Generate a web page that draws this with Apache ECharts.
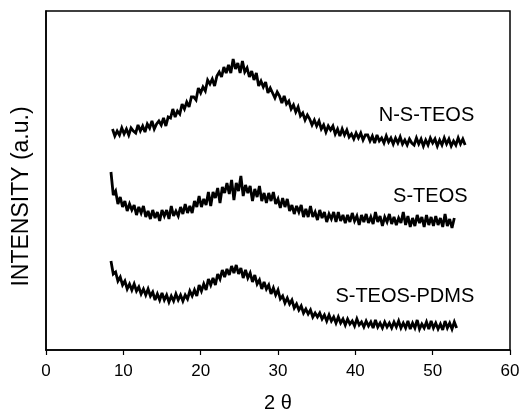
<!DOCTYPE html>
<html>
<head>
<meta charset="utf-8">
<title>XRD patterns</title>
<script src="https://cdn.jsdelivr.net/npm/echarts@6/dist/echarts.min.js"></script>
<style>
  html, body { margin: 0; padding: 0; background: #fff; }
  #chart { width: 520px; height: 409px; }
</style>
</head>
<body>
<div id="chart"></div>
<script>
// 2 theta sampling of each scan (degrees)
var angleStep = 0.3;
var nsStart = 8.6;
var sStart = 8.4;
var pdmsStart = 8.4;

// intensities (arbitrary units, curves already offset)
var nsTeos = [
  221,214,219,215,222,216,221,215,222,219,
  217,225,219,224,218,226,222,229,221,226,
  229,225,232,224,233,232,241,233,239,236,
  246,241,248,243,253,253,250,262,257,263,
  259,270,266,271,264,274,278,273,283,277,
  285,277,291,281,287,277,289,278,282,273,
  279,270,277,264,269,263,268,257,262,257,
  252,258,254,247,254,246,249,241,245,238,
  243,234,237,230,235,231,225,230,224,229,
  221,225,218,224,220,224,216,221,214,221,
  215,220,213,216,211,217,212,217,210,215,
  215,209,214,207,215,209,212,207,214,208,
  212,206,212,207,213,206,210,205,211,207,
  205,212,206,211,204,210,205,212,207,211,
  204,210,205,212,206,211,204,209,205,212,
  206,211,205
];
var sTeos = [
  178,155,159,146,153,143,149,139,146,140,
  145,135,143,137,144,133,139,131,140,132,
  138,129,140,134,140,131,144,134,139,134,
  143,136,146,137,144,137,149,143,154,143,
  151,145,158,144,158,152,162,147,163,157,
  167,156,170,150,167,159,174,154,165,157,
  164,149,161,153,164,149,157,147,157,149,
  158,146,151,142,152,143,151,139,145,136,
  144,138,145,133,141,133,144,133,138,130,
  140,132,138,128,136,131,138,128,138,129,
  135,127,135,128,137,129,134,125,135,128,
  136,127,133,126,138,128,134,124,133,128,
  136,126,133,125,132,127,138,125,134,123,
  132,124,135,127,133,123,135,125,133,124,
  134,125,132,123,136,124,131,122,132
];
var sTeosPdms = [
  89,76,78,69,73,65,69,61,66,60,
  66,59,63,56,61,55,61,54,58,50,
  56,50,57,50,55,48,54,49,56,50,
  55,49,55,51,59,54,60,54,65,59,
  66,60,71,65,72,65,76,71,80,73,
  81,75,84,77,85,76,82,72,80,72,
  77,68,75,66,70,61,68,61,65,56,
  62,55,60,51,54,47,52,46,50,42,
  46,40,44,37,41,36,40,33,37,33,
  37,31,35,29,35,29,33,27,33,27,
  31,25,31,26,29,24,31,25,28,23,
  29,24,28,22,30,23,27,22,28,23,
  27,22,28,23,29,22,27,22,29,21,
  27,22,30,21,26,22,28,21,29,22,
  27,21,26,20,29,22,27,21,28,22
];

var seriesNames = ['N-S-TEOS', 'S-TEOS', 'S-TEOS-PDMS'];
// where each name sits, in data units [2 theta, intensity]
var labelAt = [[49.2, 235], [49.7, 154], [46.4, 54]];
var xTicks = [0, 10, 20, 30, 40, 50, 60];

function toPairs(start, values) {
  var out = [];
  for (var i = 0; i < values.length; i++) {
    out.push([+(start + i * angleStep).toFixed(2), values[i]]);
  }
  return out;
}

var font = '"Liberation Sans", Arial, Helvetica, sans-serif';
var scans = [toPairs(nsStart, nsTeos), toPairs(sStart, sTeos), toPairs(pdmsStart, sTeosPdms)];

var mychart = echarts.init(document.getElementById('chart'), null, { renderer: 'canvas' });

var option = {
  animation: false,
  backgroundColor: '#fff',
  grid: {
    left: 46, right: 10, top: 11, bottom: 59,
    show: true, borderColor: '#000', borderWidth: 1.5,
    outerBoundsMode: 'none'
  },
  xAxis: {
    type: 'value',
    min: xTicks[0], max: xTicks[xTicks.length - 1], interval: 10,
    name: '2 θ',
    nameLocation: 'middle',
    nameGap: 43,
    nameTextStyle: { color: '#000', fontSize: 20, fontFamily: font },
    axisLine: { lineStyle: { color: '#000', width: 1.5 } },
    axisTick: { inside: false, length: 5, lineStyle: { color: '#000', width: 1.2 } },
    axisLabel: { color: '#000', fontSize: 17, fontFamily: font, margin: 13 },
    splitLine: { show: false }
  },
  yAxis: {
    type: 'value',
    min: 0, max: 339,
    name: 'INTENSITY (a.u.)',
    nameLocation: 'middle',
    nameGap: 13,
    nameTextStyle: { color: '#000', fontSize: 23, fontFamily: font, padding: [0, 32, 0, 0] },
    axisLine: { show: true, lineStyle: { color: '#000', width: 1.5 } },
    axisTick: { show: false },
    axisLabel: { show: false },
    splitLine: { show: false }
  },
  series: scans.map(function (d, k) {
    return {
      name: seriesNames[k],
      type: 'line',
      data: d,
      showSymbol: false,
      symbol: 'none',
      lineStyle: { color: '#000', width: 2.8, join: 'miter', miterLimit: 3 },
      markPoint: {
        symbol: 'circle',
        symbolSize: 0,
        data: [{ coord: labelAt[k], value: seriesNames[k] }],
        label: {
          show: true, position: 'inside', formatter: seriesNames[k],
          color: '#000', fontSize: 20, fontFamily: font
        }
      }
    };
  })
};

mychart.setOption(option);
</script>
</body>
</html>
